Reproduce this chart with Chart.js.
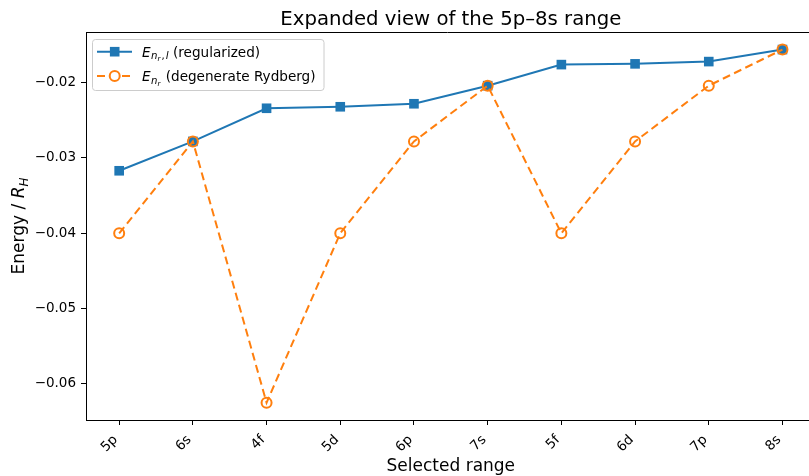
<!DOCTYPE html>
<html>
<head>
<meta charset="utf-8">
<script src="https://cdn.jsdelivr.net/npm/chart.js@4.4.1/dist/chart.umd.min.js"></script>
<style>
  html, body { margin: 0; padding: 0; background: #fff; overflow: hidden; }
  #wrap { width: 809px; height: 476px; position: relative; }
</style>
</head>
<body>
<div id="wrap"><canvas id="energyChart"></canvas></div>
<script>
// values
const categories = ['5p', '6s', '4f', '5d', '6p', '7s', '5f', '6d', '7p', '8s'];
const regularized = [-0.0317, -0.0278, -0.0234, -0.0232, -0.0228, -0.0204, -0.0176, -0.0175, -0.0172, -0.0156];
const degenerate = [-0.0400, -0.0278, -0.0625, -0.0400, -0.0278, -0.0204, -0.0400, -0.0278, -0.0204, -0.0156];
const yTicks = [-0.06, -0.05, -0.04, -0.03, -0.02];

const BLUE = '#1f77b4';
const ORANGE = '#ff7f0e';
const FONT = "'DejaVu Sans', sans-serif";

function fmt(v) {
    return v.toFixed(2).replace('-', '\u2212');
}

// draws a run of text pieces (normal / italic / sub) starting at x on baseline y
function drawRich(ctx, parts, x, y, align) {
    let total = 0;
    parts.forEach(p => {
        ctx.font = (p.italic ? 'italic ' : '') + p.size + 'px ' + FONT;
        p.w = ctx.measureText(p.t).width + (p.gap || 0);
        total += p.w;
    });
    let cx = align === 'center' ? x - total / 2 : x;
    ctx.textAlign = 'left';
    ctx.textBaseline = 'alphabetic';
    parts.forEach(p => {
        ctx.font = (p.italic ? 'italic ' : '') + p.size + 'px ' + FONT;
        ctx.fillText(p.t, cx, y + (p.dy || 0));
        cx += p.w;
    });
}

const decorations = {
    id: 'decorations',
    afterDraw(chart) {
        const ctx = chart.ctx;
        const area = chart.chartArea;
        const xs = chart.scales.x;
        const mid = xs.getPixelForValue(4.5);
        ctx.save();
        ctx.fillStyle = '#000';

        // top spine
        ctx.strokeStyle = '#000';
        ctx.lineWidth = 1;
        ctx.beginPath();
        ctx.moveTo(area.left, area.top + 0.5);
        ctx.lineTo(area.right, area.top + 0.5);
        ctx.stroke();

        // title
        ctx.font = '19.7px ' + FONT;
        ctx.textAlign = 'center';
        ctx.textBaseline = 'alphabetic';
        ctx.fillText('Expanded view of the 5p\u20138s range', mid, 25);

        // x label
        ctx.font = '17px ' + FONT;
        ctx.fillText('Selected range', mid, 470.5);

        // y label
        ctx.save();
        ctx.translate(24, (area.top + area.bottom) / 2);
        ctx.rotate(-Math.PI / 2);
        drawRich(ctx, [
            { t: 'Energy / ', size: 17 },
            { t: 'R', size: 17, italic: true },
            { t: 'H', size: 11.9, italic: true, dy: 3.5 }
        ], 0, 0, 'center');
        ctx.restore();

        // legend box
        const bx = 92.5, by = 39.5, bw = 231.5, bh = 51, r = 3;
        ctx.beginPath();
        ctx.moveTo(bx + r, by);
        ctx.arcTo(bx + bw, by, bx + bw, by + bh, r);
        ctx.arcTo(bx + bw, by + bh, bx, by + bh, r);
        ctx.arcTo(bx, by + bh, bx, by, r);
        ctx.arcTo(bx, by, bx + bw, by, r);
        ctx.closePath();
        ctx.fillStyle = 'rgba(255,255,255,0.8)';
        ctx.fill();
        ctx.strokeStyle = '#cccccc';
        ctx.lineWidth = 1;
        ctx.stroke();

        // legend row 1: regularized
        const y1 = 51.7, y2 = 76;
        ctx.strokeStyle = BLUE;
        ctx.lineWidth = 2;
        ctx.setLineDash([]);
        ctx.beginPath();
        ctx.moveTo(97, y1);
        ctx.lineTo(132, y1);
        ctx.stroke();
        ctx.fillStyle = BLUE;
        ctx.fillRect(114.7 - 4.8, y1 - 4.8, 9.6, 9.6);

        // legend row 2: degenerate
        ctx.strokeStyle = ORANGE;
        ctx.setLineDash([8, 4.5]);
        ctx.beginPath();
        ctx.moveTo(97, y2);
        ctx.lineTo(132, y2);
        ctx.stroke();
        ctx.setLineDash([]);
        ctx.fillStyle = '#fff';
        ctx.beginPath();
        ctx.arc(114.7, y2, 5, 0, Math.PI * 2);
        ctx.fill();
        ctx.stroke();

        ctx.fillStyle = '#000';
        drawRich(ctx, [
            { t: 'E', size: 13.6, italic: true, gap: 0.5 },
            { t: 'n', size: 10.2, italic: true, dy: 2.5 },
            { t: 'r', size: 7.2, italic: true, dy: 4.5, gap: 1 },
            { t: ',', size: 10.2, dy: 2.5, gap: 1 },
            { t: 'l', size: 10.2, italic: true, dy: 2.5 }
        ], 142, y1 + 5);
        ctx.font = '13.6px ' + FONT;
        ctx.fillText('(regularized)', 173, y1 + 5);

        drawRich(ctx, [
            { t: 'E', size: 13.6, italic: true, gap: 0.5 },
            { t: 'n', size: 10.2, italic: true, dy: 2.5 },
            { t: 'r', size: 7.2, italic: true, dy: 4.5 }
        ], 142, y2 + 5);
        ctx.font = '13.6px ' + FONT;
        ctx.fillText('(degenerate Rydberg)', 165.7, y2 + 5);

        ctx.restore();
    }
};

const ctx = document.getElementById('energyChart').getContext('2d');

new Chart(ctx, {
    type: 'line',
    data: {
        datasets: [{
            label: 'E_nr,l (regularized)',
            data: categories.map((c, i) => ({ x: i, y: regularized[i] })),
            borderColor: BLUE,
            backgroundColor: BLUE,
            borderWidth: 2,
            pointStyle: 'rect',
            pointRadius: 6.8,
            pointBorderWidth: 0,
            order: 2
        }, {
            label: 'E_nr (degenerate Rydberg)',
            data: categories.map((c, i) => ({ x: i, y: degenerate[i] })),
            borderColor: ORANGE,
            backgroundColor: 'rgba(0,0,0,0)',
            borderWidth: 2,
            borderDash: [8, 4.5],
            pointStyle: 'circle',
            pointRadius: 5,
            pointBorderWidth: 2,
            order: 1
        }]
    },
    options: {
        responsive: true,
        maintainAspectRatio: false,
        animation: false,
        devicePixelRatio: 1,
        layout: { autoPadding: false, padding: { top: 32, left: 0, right: 0, bottom: 0 } },
        plugins: {
            legend: { display: false },
            title: { display: false },
            tooltip: { enabled: false }
        },
        scales: {
            x: {
                type: 'linear',
                min: -0.45,
                max: 9.36,
                afterBuildTicks: scale => {
                    scale.ticks = categories.map((c, i) => ({ value: i }));
                },
                afterFit: scale => {
                    scale.height = 56;
                    scale.paddingLeft = 0;
                    scale.paddingRight = 0;
                },
                grid: {
                    drawOnChartArea: false,
                    tickLength: 5,
                    tickColor: '#000',
                    tickWidth: 1
                },
                border: { color: '#000', width: 1 },
                ticks: {
                    minRotation: 45,
                    maxRotation: 45,
                    autoSkip: false,
                    padding: 7,
                    labelOffset: -3.5,
                    color: '#000',
                    font: { family: FONT, size: 13.5 },
                    callback: v => categories[v]
                }
            },
            y: {
                min: -0.0648,
                max: -0.01327,
                afterBuildTicks: scale => {
                    scale.ticks = yTicks.map(v => ({ value: v }));
                },
                afterFit: scale => { scale.width = 86; },
                grid: {
                    drawOnChartArea: false,
                    tickLength: 5,
                    tickColor: '#000',
                    tickWidth: 1
                },
                border: { color: '#000', width: 1 },
                ticks: {
                    padding: 5,
                    color: '#000',
                    font: { family: FONT, size: 13.5 },
                    callback: v => fmt(v)
                }
            }
        }
    },
    plugins: [decorations]
});
</script>
</body>
</html>
